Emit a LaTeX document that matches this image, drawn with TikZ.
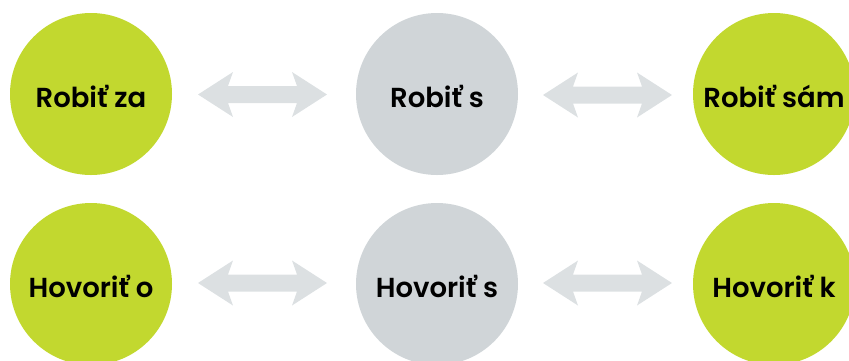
\documentclass[tikz,border=0pt]{standalone}
\usepackage{fontspec}
\setmainfont{Poppins}[UprightFont={* SemiBold}, BoldFont={* Bold}]
\definecolor{lime}{HTML}{C2D82F}
\definecolor{stone}{HTML}{D0D5D8}
\definecolor{pale}{HTML}{DCE0E2}
\tikzset{
  x=1pt, y=-1pt,
  bubble/.style={circle, minimum size=162pt, inner sep=0pt, text=black,
    font=\fontsize{27.5}{30}\selectfont, text height=26pt, text depth=0pt},
  green/.style={bubble, fill=lime},
  grey/.style={bubble, fill=stone},
  dblarrow/.pic={
    \fill[pale] (-64.5,0) -- (-29.5,-22.5) -- (-34.5,-8.5) -- (34.5,-8.5) -- (29.5,-22.5)
      -- (64.5,0) -- (29.5,22.5) -- (34.5,8.5) -- (-34.5,8.5) -- (-29.5,22.5) -- cycle;
  }
}
\begin{document}
\begin{tikzpicture}
\useasboundingbox (0,0) rectangle (849,360);
\clip (0,0) rectangle (849,360);
\node[green] (a1) at (91,94) {Robiť za};
\node[grey]  (b1) at (437,94) {Robiť s};
\node[green] (c1) at (774,94) {Robiť sám};
\node[green] (a2) at (91,284) {Hovoriť o};
\node[grey]  (b2) at (437,284) {Hovoriť s};
\node[green] (c2) at (774,284) {Hovoriť k};
\pic at (262.5,94.5) {dblarrow};
\pic at (607.5,95) {dblarrow};
\pic at (262.5,283) {dblarrow};
\pic at (607.5,283) {dblarrow};
\end{tikzpicture}
\end{document}
